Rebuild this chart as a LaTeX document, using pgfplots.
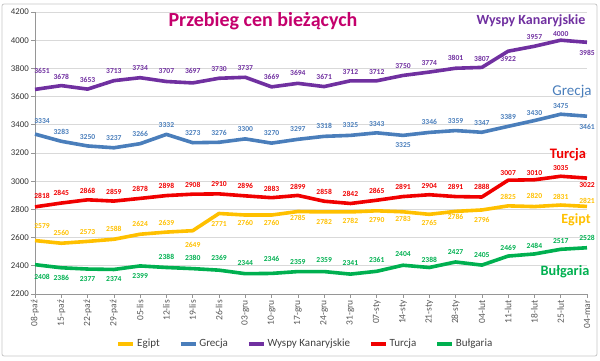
\documentclass[border=0pt]{standalone}
\usepackage{fontspec}
\setmainfont{Carlito}
\usepackage{pgfplots}
\usepackage{pgfplotstable}
\pgfplotsset{compat=1.18}
\definecolor{egipt}{RGB}{255,192,0}
\definecolor{grecja}{RGB}{74,126,187}
\definecolor{wyspy}{RGB}{112,48,160}
\definecolor{turcja}{RGB}{240,0,0}
\definecolor{bulg}{RGB}{0,176,80}
\definecolor{titlec}{RGB}{196,0,108}
\definecolor{gridc}{RGB}{217,217,217}
\definecolor{axc}{RGB}{150,150,150}
\definecolor{tickc}{RGB}{89,89,89}
\pgfkeys{/pgf/number format/.cd,1000 sep={},assume math mode=true}

\pgfplotstableread{
x y dy dx
0 2579 15 7
1 2560 10 0
2 2573 9 0
3 2588 10 0
4 2624 10 0
5 2639 9 0
6 2649 -14 0
7 2771 -11 0
8 2760 -8 0
9 2760 -8 0
10 2785 -6 0
11 2782 -10 0
12 2782 -9 0
13 2790 -9 0
14 2783 -7 0
15 2765 -9 0
16 2786 -6 0
17 2796 -10 0
18 2825 9 0
19 2820 11 0
20 2831 8 0
21 2821 6 0
}\tEgipt

\pgfplotstableread{
x y dy dx
0 3334 13 7
1 3283 9 0
2 3250 9 0
3 3237 10 0
4 3266 10 0
5 3332 9 0
6 3273 10 0
7 3276 9 0
8 3300 10 0
9 3270 10 0
10 3297 10 0
11 3318 10 0
12 3325 10 0
13 3343 9 0
14 3325 -10 0
15 3346 10 0
16 3359 10 0
17 3347 9 0
18 3389 9 0
19 3430 8 0
20 3475 8 0
21 3461 -11 0
}\tGrecja

\pgfplotstableread{
x y dy dx
0 3651 18 7
1 3678 9 0
2 3653 9 0
3 3713 10 0
4 3734 10 0
5 3707 10 0
6 3697 12 0
7 3730 9 0
8 3737 9 0
9 3669 10 0
10 3694 10 0
11 3671 10 0
12 3712 9 0
13 3712 9 0
14 3750 9 0
15 3774 9 0
16 3801 10 0
17 3807 9 0
18 3922 -8 0
19 3957 9 0
20 4000 6 0
21 3985 -11 0
}\tWyspy

\pgfplotstableread{
x y dy dx
0 2818 11 7
1 2845 10 0
2 2868 9 0
3 2859 9 0
4 2878 9 0
5 2898 10 0
6 2908 9 0
7 2910 10 0
8 2896 10 0
9 2883 9 0
10 2899 9 0
11 2858 9 0
12 2842 10 0
13 2865 9 0
14 2891 10 0
15 2904 9 0
16 2891 10 0
17 2888 10 0
18 3007 7 0
19 3010 7 0
20 3035 8 0
21 3022 -7 0
}\tTurcja

\pgfplotstableread{
x y dy dx
0 2408 -12 7
1 2386 -10 0
2 2377 -10 0
3 2374 -10 0
4 2399 -10 0
5 2388 11 0
6 2380 11 0
7 2369 12 0
8 2344 11 0
9 2346 14 0
10 2359 10 0
11 2359 12 0
12 2341 11 0
13 2361 11 0
14 2404 11 0
15 2388 8 0
16 2427 10 0
17 2405 10 0
18 2469 8 0
19 2484 8 0
20 2517 8 0
21 2528 10 0
}\tBulg

\begin{document}
\begin{tikzpicture}
\useasboundingbox (0,0) rectangle (600pt,361pt);
\draw[gray!45, line width=0.8pt, rounded corners=2pt] (2pt,5pt) rectangle (597pt,357pt);
\begin{axis}[
  at={(35pt,67pt)}, anchor=south west,
  scale only axis, width=552pt, height=282pt,
  xmin=0, xmax=21, ymin=2200, ymax=4200,
  ytick distance=200,
  xtick={0,...,21},
  xticklabels={08-paź,15-paź,22-paź,29-paź,05-lis,12-lis,19-lis,26-lis,03-gru,10-gru,17-gru,24-gru,31-gru,07-sty,14-sty,21-sty,28-sty,04-lut,11-lut,18-lut,25-lut,04-mar},
  xticklabel style={rotate=90, anchor=east, font=\fontsize{9.5}{10}\selectfont, text=tickc, inner sep=2pt},
  yticklabel style={font=\fontsize{8.8}{10}\selectfont, text=black!80, inner sep=2pt},
  axis x line*=bottom, axis y line*=left,
  axis line style={axc, line width=0.6pt},
  tick style={axc, line width=0.6pt},
  tick align=outside, major tick length=4pt,
  ymajorgrids, grid style={gridc, line width=0.6pt},
  clip=false,
  every axis plot/.append style={line width=3.6pt, no markers, line join=round},
  nodes near coords,
  visualization depends on={\thisrow{dy} \as \dy},
  visualization depends on={\thisrow{dx} \as \dx},
  nodes near coords style={anchor=center, yshift=\dy pt, xshift=\dx pt, font=\fontsize{7.6}{8}\selectfont\bfseries, inner sep=0pt},
  legend columns=5,
  legend style={at={(0.49,-0.177)}, anchor=center, draw=none, fill=none, font=\fontsize{11}{12}\selectfont, text=black!75,
    /tikz/every even column/.append style={column sep=17pt}},
  legend image code/.code={\draw[line width=3.6pt] (0pt,0pt) -- (15pt,0pt);},
]
\addplot[egipt] table[x=x,y=y] {\tEgipt};
\addlegendentry{Egipt}
\addplot[grecja] table[x=x,y=y] {\tGrecja};
\addlegendentry{Grecja}
\addplot[wyspy] table[x=x,y=y] {\tWyspy};
\addlegendentry{Wyspy Kanaryjskie}
\addplot[turcja] table[x=x,y=y] {\tTurcja};
\addlegendentry{Turcja}
\addplot[bulg] table[x=x,y=y] {\tBulg};
\addlegendentry{Bułgaria}
\end{axis}
\node[text=titlec, font=\fontsize{20}{22}\selectfont\bfseries] at (263pt,340pt) {Przebieg cen bieżących};
\node[text=wyspy, font=\fontsize{14}{16}\selectfont\bfseries] at (531pt,340pt) {Wyspy Kanaryjskie};
\node[text=grecja, font=\fontsize{15}{17}\selectfont] at (572pt,269pt) {Grecja};
\node[text=turcja, font=\fontsize{14.5}{16}\selectfont\bfseries] at (568pt,206pt) {Turcja};
\node[text=egipt, font=\fontsize{14}{16}\selectfont\bfseries] at (576pt,141pt) {Egipt};
\node[text=bulg, font=\fontsize{14.3}{16}\selectfont\bfseries] at (565pt,89pt) {Bułgaria};
\end{tikzpicture}
\end{document}
